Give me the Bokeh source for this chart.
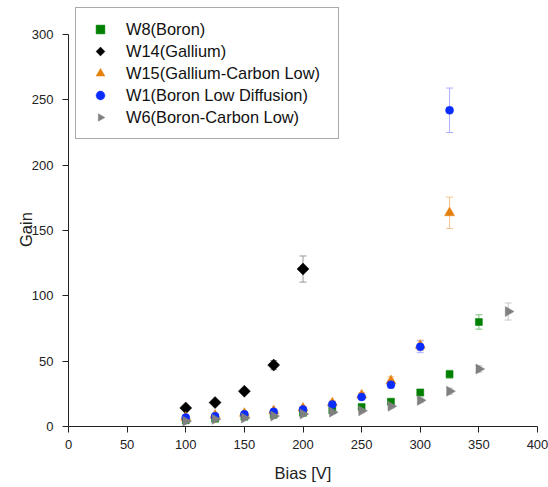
import math
from bokeh.plotting import figure
from bokeh.models import ColumnDataSource, Whisker, TeeHead, Legend, LegendItem, Range1d
from bokeh.embed import file_html
from bokeh.resources import INLINE

# ---- data ----
bias_w8 = [100, 125, 150, 175, 200, 225, 250, 275, 300, 325, 350]
gain_w8 = [4.8, 6.0, 7.5, 9.0, 10.5, 12.5, 15.0, 19.0, 26.0, 40.0, 80.0]
err_w8 = [0.5, 0.6, 0.7, 0.9, 1.0, 1.2, 1.5, 1.9, 2.5, 3.0, 5.5]

bias_w14 = [100, 125, 150, 175, 200]
gain_w14 = [14.2, 18.3, 27.0, 47.0, 120.5]
err_w14 = [1.0, 1.2, 1.8, 3.5, 10.0]

bias_w15 = [100, 125, 150, 175, 200, 225, 250, 275, 300, 325]
gain_w15 = [7.0, 8.5, 10.0, 12.0, 14.0, 18.0, 24.0, 35.0, 62.0, 163.5]
err_w15 = [0.6, 0.8, 0.9, 1.0, 1.2, 1.5, 2.0, 3.0, 4.0, 12.0]

bias_w1 = [100, 125, 150, 175, 200, 225, 250, 275, 300, 325]
gain_w1 = [6.8, 7.9, 9.4, 11.2, 13.0, 16.8, 22.6, 32.0, 61.0, 242.0]
err_w1 = [0.6, 0.7, 0.8, 1.0, 1.2, 1.5, 2.0, 2.8, 4.5, 17.0]

bias_w6 = [100, 125, 150, 175, 200, 225, 250, 275, 300, 325, 350, 375]
gain_w6 = [4.0, 5.5, 6.5, 8.0, 9.5, 11.0, 12.0, 15.5, 20.0, 27.0, 44.0, 88.0]
err_w6 = [0.4, 0.5, 0.6, 0.7, 0.9, 1.0, 1.1, 1.4, 1.8, 2.4, 2.5, 6.5]

x_ticks = [0, 50, 100, 150, 200, 250, 300, 350, 400]
y_ticks = [0, 50, 100, 150, 200, 250, 300]

FONT = "Liberation Sans"

p = figure(width=548, height=487, output_backend="svg", toolbar_location=None,
           x_range=Range1d(0, 400), y_range=Range1d(0, 326),
           min_border_left=68, min_border_right=11, min_border_top=0, min_border_bottom=61)
p.outline_line_color = None
p.grid.visible = False
p.background_fill_color = "white"

for ax in (p.xaxis[0], p.yaxis[0]):
    ax.axis_line_color = "#222222"
    ax.major_tick_line_color = "#222222"
    ax.minor_tick_line_color = "#222222"
    ax.major_tick_in = 0
    ax.major_tick_out = 6
    ax.minor_tick_in = 0
    ax.minor_tick_out = 3
    ax.major_label_text_font = FONT
    ax.major_label_text_font_size = "13px"
    ax.major_label_text_color = "#222222"
    ax.axis_label_text_font = FONT
    ax.axis_label_text_font_size = "16.5px"
    ax.axis_label_text_font_style = "normal"
    ax.axis_label_text_color = "#222222"

p.xaxis.ticker = x_ticks
p.yaxis.ticker = y_ticks
p.xaxis[0].ticker.num_minor_ticks = 2
p.yaxis[0].ticker.num_minor_ticks = 2
p.xaxis.axis_label = "Bias [V]"
# trailing no-break spaces centre the visible word on the 0-300 axis span
p.yaxis.axis_label = "Gain" + "\u00a0" * 7
p.yaxis.bounds = (0, 300)
p.xaxis.major_label_standoff = 7
p.yaxis.major_label_standoff = 9
p.xaxis.axis_label_standoff = 12
p.yaxis.axis_label_standoff = -6


def make_source(bias, gain, err):
    return ColumnDataSource(dict(x=bias, y=gain,
                                 lo=[g - e for g, e in zip(gain, err)],
                                 hi=[g + e for g, e in zip(gain, err)]))


def add_whisker(src, ecolor):
    w = Whisker(source=src, base="x", upper="hi", lower="lo", line_color=ecolor, line_width=1,
                upper_head=TeeHead(size=7, line_color=ecolor, line_width=1),
                lower_head=TeeHead(size=7, line_color=ecolor, line_width=1))
    p.add_layout(w)


s8 = make_source(bias_w8, gain_w8, err_w8)
s14 = make_source(bias_w14, gain_w14, err_w14)
s15 = make_source(bias_w15, gain_w15, err_w15)
s1 = make_source(bias_w1, gain_w1, err_w1)
s6 = make_source(bias_w6, gain_w6, err_w6)

add_whisker(s8, "#7fbf7f")
r8 = p.scatter("x", "y", source=s8, marker="square", size=7,
               fill_color="#008000", line_color="#008000", line_width=0.5)
add_whisker(s14, "#999999")
r14 = p.ngon("x", "y", source=s14, radius=6, radius_units="screen", n=4,
             fill_color="#000000", line_color="#000000", line_width=0.5)
add_whisker(s15, "#F5C38E")
r15 = p.scatter("x", "y", source=s15, marker="triangle", size=10,
                fill_color="#E5800F", line_color="#E5800F", line_width=0.5)
add_whisker(s1, "#A8B0FF")
r1 = p.scatter("x", "y", source=s1, marker="circle", size=8,
               fill_color="#0A2CFF", line_color="#0A2CFF", line_width=0.5)
add_whisker(s6, "#C8C8C8")
r6 = p.ngon("x", "y", source=s6, radius=5.8, radius_units="screen", n=3, angle=-math.pi / 2,
            fill_color="#808080", line_color="#808080", line_width=0.5)

legend = Legend(items=[
    LegendItem(label="W8(Boron)", renderers=[r8]),
    LegendItem(label="W14(Gallium)", renderers=[r14]),
    LegendItem(label="W15(Gallium-Carbon Low)", renderers=[r15]),
    LegendItem(label="W1(Boron Low Diffusion)", renderers=[r1]),
    LegendItem(label="W6(Boron-Carbon Low)", renderers=[r6]),
], location="top_left")
legend.margin = 0
legend.padding = 10
legend.spacing = 0
legend.glyph_width = 28
legend.glyph_height = 22
legend.label_height = 22
legend.label_width = 202
legend.label_standoff = 12
legend.label_text_font = FONT
legend.label_text_font_size = "16.4px"
legend.label_text_color = "#111111"
legend.border_line_color = "#555555"
legend.border_line_width = 1
legend.background_fill_color = "white"
legend.background_fill_alpha = 1.0
p.add_layout(legend, "center")
legend.location = (7, 287)

open("out.html", "w").write(file_html(p, INLINE))
